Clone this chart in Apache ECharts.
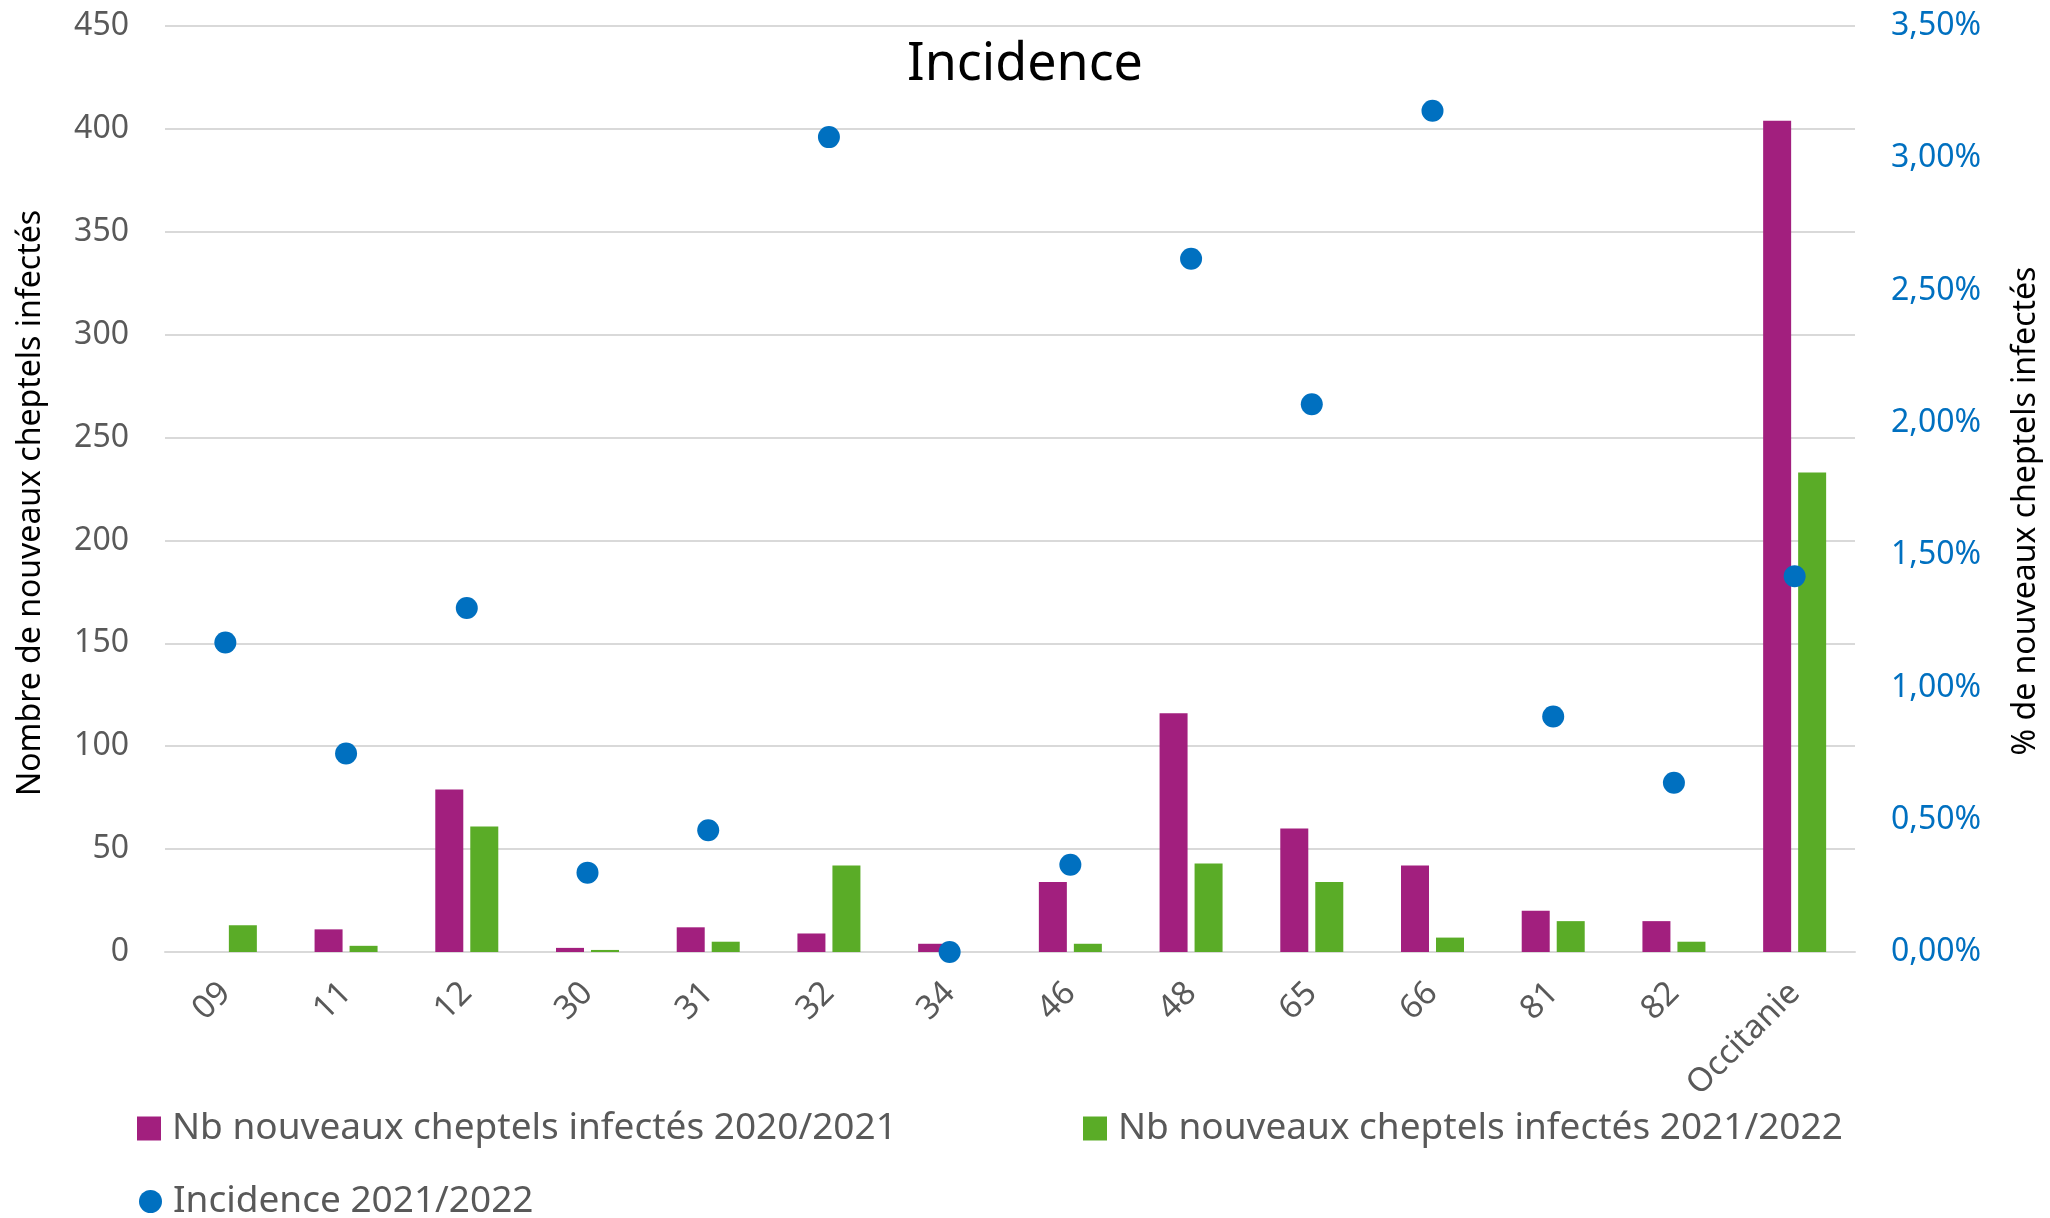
<!DOCTYPE html>
<html>
<head>
<meta charset="utf-8">
<script src="https://cdn.jsdelivr.net/npm/echarts@6/dist/echarts.min.js"></script>
<style>
html,body{margin:0;padding:0;background:#fff;}
#chart{width:2050px;height:1218px;}
</style>
</head>
<body>
<div id="chart"></div>
<script>
var categories = ['09','11','12','30','31','32','34','46','48','65','66','81','82','Occitanie'];
var cases2020 = [0,11,79,2,12,9,4,34,116,60,42,20,15,404];
var cases2021 = [13,3,61,1,5,42,0,4,43,34,7,15,5,233];
var incidence2021 = [1.17,0.75,1.30,0.30,0.46,3.08,0,0.33,2.62,2.07,3.18,0.89,0.64,1.42];
var seriesNames = ['Nb nouveaux cheptels infectés 2020/2021','Nb nouveaux cheptels infectés 2021/2022','Incidence 2021/2022'];

var FONT = 'Noto Sans';
var chart = echarts.init(document.getElementById('chart'));
var legendText = {fontFamily: FONT, fontSize: 37, color: '#595959', padding: [0,0,0,6]};
chart.setOption({
  animation: false,
  backgroundColor: '#fff',
  textStyle: {fontFamily: FONT},
  title: {
    text: 'Incidence', left: 'center', top: 34,
    padding: [5, 0, 5, 10],
    textStyle: {fontFamily: FONT, fontSize: 52, fontWeight: 'normal', color: '#000'}
  },
  grid: {left: 165, right: 195, top: 26, bottom: 266, containLabel: false},
  legend: [
    {data: [seriesNames[0]], left: 132, top: 1105, itemWidth: 24, itemHeight: 24, textStyle: legendText, icon: 'rect'},
    {data: [seriesNames[1]], left: 1078, top: 1105, itemWidth: 24, itemHeight: 24, textStyle: legendText, icon: 'rect'},
    {data: [seriesNames[2]], left: 134, top: 1178, itemWidth: 23, itemHeight: 23, textStyle: legendText, icon: 'circle'}
  ],
  xAxis: {
    type: 'category', data: categories,
    axisLine: {lineStyle: {color: '#d9d9d9', width: 2}},
    axisTick: {show: false},
    axisLabel: {rotate: 45, fontFamily: FONT, fontSize: 33, color: '#595959', margin: 36}
  },
  yAxis: [
    {
      type: 'value', min: 0, max: 450, interval: 50,
      name: 'Nombre de nouveaux cheptels infectés', nameLocation: 'middle', nameGap: 118,
      nameTextStyle: {fontFamily: FONT, fontSize: 32, color: '#000', padding: [0, 28, 0, 0]},
      axisLine: {show: false}, axisTick: {show: false},
      axisLabel: {fontFamily: FONT, fontSize: 32, color: '#595959', margin: 36},
      splitLine: {lineStyle: {color: '#d9d9d9', width: 2}}
    },
    {
      type: 'value', min: 0, max: 3.5, interval: 0.5, position: 'right',
      name: '% de nouveaux cheptels infectés', nameLocation: 'middle', nameGap: 155, nameRotate: 90,
      nameTextStyle: {fontFamily: FONT, fontSize: 32, color: '#000', padding: [0, 44, 0, 0]},
      axisLine: {show: false}, axisTick: {show: false},
      axisLabel: {fontFamily: FONT, fontSize: 32, color: '#0070C0', margin: 36,
        formatter: function (v) { return v.toFixed(2).replace('.', ',') + '%'; }},
      splitLine: {show: false}
    }
  ],
  series: [
    {name: seriesNames[0], type: 'bar', data: cases2020, barWidth: 28, barGap: '25%', itemStyle: {color: '#A21F7E'}},
    {name: seriesNames[1], type: 'bar', data: cases2021, barWidth: 28, itemStyle: {color: '#5AAC27'}},
    {name: seriesNames[2], type: 'scatter', yAxisIndex: 1, data: incidence2021, symbolSize: 22, z: 5, itemStyle: {color: '#0070C0', opacity: 1}}
  ]
});
</script>
</body>
</html>
